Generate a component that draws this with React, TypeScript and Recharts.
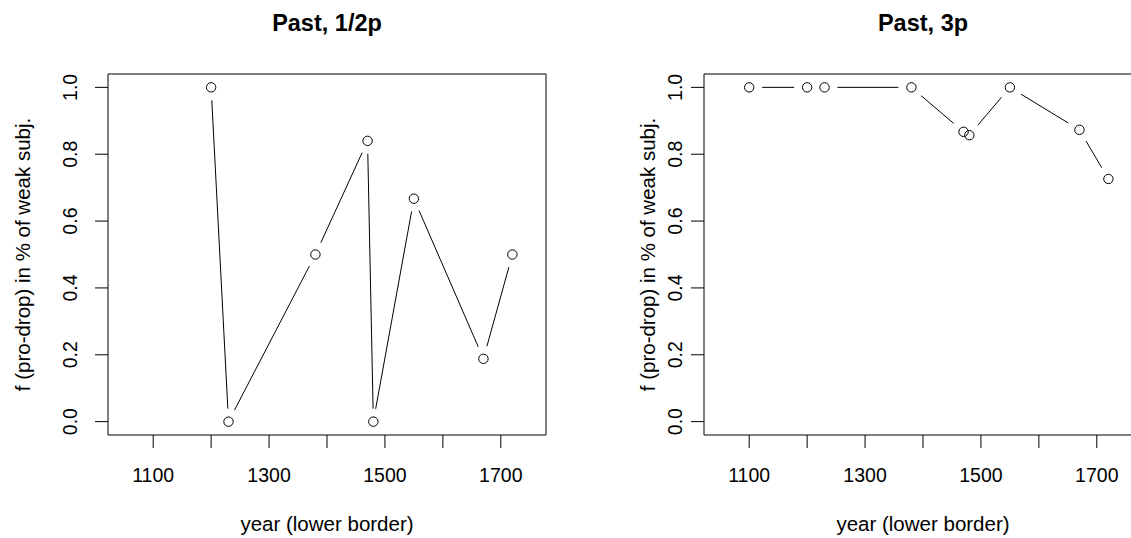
import React from "react";
import { LineChart, Line, XAxis, YAxis, ReferenceArea } from "recharts";

// year (lower border) of each period
const YEARS_12P = [1200, 1230, 1380, 1470, 1480, 1550, 1670, 1720];
const YEARS_3P = [1100, 1200, 1230, 1380, 1470, 1480, 1550, 1670, 1720];

// share of pro-drop among weak subjects
const DROP_12P = [1.0, 0.0, 0.5, 0.84, 0.0, 0.667, 0.188, 0.5];
const DROP_3P = [1.0, 1.0, 1.0, 1.0, 0.867, 0.857, 1.0, 0.873, 0.726];

const X_TICKS = [1100, 1200, 1300, 1400, 1500, 1600, 1700];
const X_LABELLED = [1100, 1300, 1500, 1700];
const Y_TICKS = [0, 0.2, 0.4, 0.6, 0.8, 1.0];

// xlim 1050..1750 and ylim 0..1, padded by 4% like base graphics
const X_DOMAIN: [number, number] = [1022, 1778];
const Y_DOMAIN: [number, number] = [-0.04, 1.04];

const FONT = '"Liberation Sans", Arial, Helvetica, sans-serif';
const GAP = 13; // distance from point centre to where a segment starts

const toRows = (years: number[], vals: number[]) =>
  years.map((year, i) => ({ year, share: vals[i] }));

// circle plus a shortened segment to the next point (type = "b")
function PointMark(props: any) {
  const { cx, cy, index, points } = props;
  const next = points && points[index + 1];
  let seg = null;
  if (next) {
    const dx = next.x - cx;
    const dy = next.y - cy;
    const len = Math.hypot(dx, dy);
    if (len > 2 * GAP) {
      const ux = dx / len;
      const uy = dy / len;
      seg = (
        <line
          x1={cx + ux * GAP}
          y1={cy + uy * GAP}
          x2={next.x - ux * GAP}
          y2={next.y - uy * GAP}
          stroke="#000"
          strokeWidth={1}
        />
      );
    }
  }
  return (
    <g key={`pt-${index}`}>
      {seg}
      <circle cx={cx} cy={cy} r={4.7} fill="none" stroke="#000" strokeWidth={1} />
    </g>
  );
}

function XTick({ x, y, payload }: any) {
  if (!X_LABELLED.includes(payload.value)) return <g />;
  return (
    <text x={x} y={y + 34} textAnchor="middle" fontFamily={FONT} fontSize={19.5} fill="#000">
      {payload.value}
    </text>
  );
}

function makeYTick(offset: number) {
  return function YTick({ x, y, payload }: any) {
    const tx = x - offset;
    return (
      <text
        x={tx}
        y={y}
        transform={`rotate(-90, ${tx}, ${y})`}
        textAnchor="middle"
        fontFamily={FONT}
        fontSize={19.5}
        fill="#000"
      >
        {payload.value.toFixed(1)}
      </text>
    );
  };
}

type PanelProps = {
  title: string;
  rows: { year: number; share: number }[];
  left: number;
  width: number;
  axisWidth: number;
  tickOffset: number;
  ylabX: number;
};

function Panel({ title, rows, left, width, axisWidth, tickOffset, ylabX }: PanelProps) {
  const plotLeft = axisWidth;
  const plotWidth = width - axisWidth - 20;
  return (
    <div style={{ position: "absolute", left, top: 0, width, height: 538 }}>
      <svg
        width={width}
        height={40}
        style={{ position: "absolute", left: 0, top: 0 }}
      >
        <text
          x={plotLeft + plotWidth / 2}
          y={31}
          textAnchor="middle"
          fontFamily={FONT}
          fontWeight="bold"
          fontSize={23.5}
          fill="#000"
        >
          {title}
        </text>
      </svg>
      <LineChart
        width={width}
        height={538}
        data={rows}
        margin={{ top: 74, right: 20, bottom: 0, left: 0 }}
        style={{ position: "absolute", left: 0, top: 0 }}
      >
        <XAxis
          dataKey="year"
          type="number"
          domain={X_DOMAIN}
          ticks={X_TICKS}
          interval={0}
          height={103}
          axisLine={false}
          tickSize={13}
          tickMargin={0}
          tickLine={{ stroke: "#000", strokeWidth: 1 }}
          tick={<XTick />}
          allowDataOverflow
          label={({ viewBox }: any) => (
            <text
              x={viewBox.x + viewBox.width / 2}
              y={viewBox.y + 96}
              textAnchor="middle"
              fontFamily={FONT}
              fontSize={20.5}
              fill="#000"
            >
              year (lower border)
            </text>
          )}
        />
        <YAxis
          type="number"
          domain={Y_DOMAIN}
          ticks={Y_TICKS}
          interval={0}
          width={axisWidth}
          axisLine={false}
          tickSize={13}
          tickMargin={0}
          tickLine={{ stroke: "#000", strokeWidth: 1 }}
          tick={makeYTick(tickOffset)}
          allowDataOverflow
          label={({ viewBox }: any) => {
            const cx = viewBox.x + ylabX;
            const cy = viewBox.y + viewBox.height / 2;
            return (
              <text
                x={cx}
                y={cy}
                transform={`rotate(-90, ${cx}, ${cy})`}
                textAnchor="middle"
                fontFamily={FONT}
                fontSize={20.5}
                fill="#000"
              >
                f (pro-drop) in % of weak subj.
              </text>
            );
          }}
        />
        <ReferenceArea
          x1={X_DOMAIN[0]}
          x2={X_DOMAIN[1]}
          y1={Y_DOMAIN[0]}
          y2={Y_DOMAIN[1]}
          fill="none"
          stroke="#000"
          strokeWidth={1}
          fillOpacity={0}
          strokeOpacity={1}
          ifOverflow="visible"
        />
        <Line
          dataKey="share"
          type="linear"
          stroke="none"
          dot={(p: any) => <PointMark {...p} key={`pt-${p.index}`} />}
          activeDot={false}
          isAnimationActive={false}
        />
      </LineChart>
    </div>
  );
}

export default function App() {
  return (
    <div
      style={{
        position: "absolute",
        left: 0,
        top: 0,
        width: 1131,
        height: 538,
        overflow: "hidden",
        background: "#fff",
      }}
    >
      <Panel
        title="Past, 1/2p"
        rows={toRows(YEARS_12P, DROP_12P)}
        left={0}
        width={566}
        axisWidth={108}
        tickOffset={18.3}
        ylabX={30}
      />
      <Panel
        title="Past, 3p"
        rows={toRows(YEARS_3P, DROP_3P)}
        left={566}
        width={596}
        axisWidth={138}
        tickOffset={9.3}
        ylabX={89}
      />
    </div>
  );
}
